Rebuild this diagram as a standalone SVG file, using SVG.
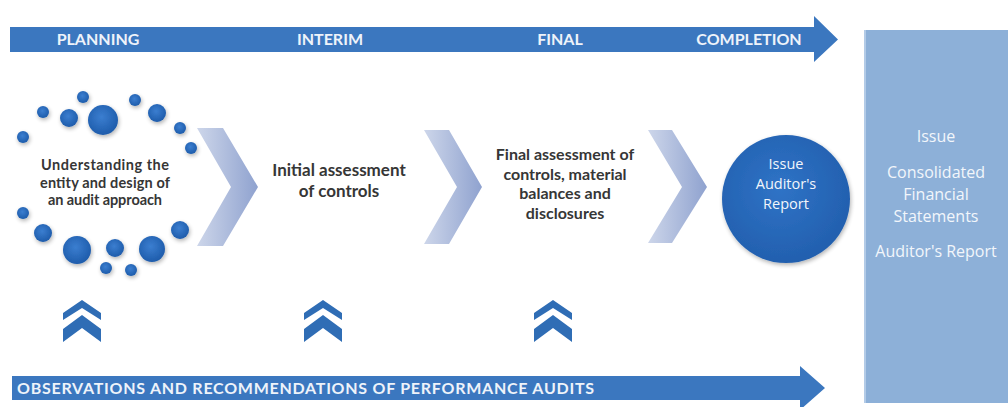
<svg xmlns="http://www.w3.org/2000/svg" width="1008" height="407" viewBox="0 0 1008 407">
  <defs>
    <style>
      .band { fill: #3b77bf; }
      .band-label { font-family: Lato, "Liberation Sans", sans-serif; font-weight: 700; font-size: 16px; fill: #eef3fa; text-anchor: middle; }
      .step-text { font-family: Lato, "Liberation Sans", sans-serif; font-weight: 700; font-size: 16px; fill: #363636; text-anchor: middle; }
      .plan-text { font-size: 14.5px; }
      .big-text { font-size: 17px; }
      .light-text { font-family: "Open Sans", "Liberation Sans", sans-serif; font-size: 16px; fill: #f2f6fb; text-anchor: middle; }
      .disc-text { font-size: 14.5px; }
      .dot { fill: url(#dotFill); }
      .chev { fill: url(#chevFill); }
      .up { fill: #2f6db5; }
    </style>
    <radialGradient id="dotFill" cx="0.45" cy="0.4" r="0.6">
      <stop offset="0" stop-color="#3b7ed0"/>
      <stop offset="1" stop-color="#1e5cab"/>
    </radialGradient>
    <radialGradient id="discFill" cx="0.45" cy="0.42" r="0.6">
      <stop offset="0" stop-color="#2f73c6"/>
      <stop offset="1" stop-color="#225fae"/>
    </radialGradient>
    <linearGradient id="chevFill" x1="0" y1="0" x2="1" y2="0">
      <stop offset="0" stop-color="#cdd6ea"/>
      <stop offset="1" stop-color="#8fa2cf"/>
    </linearGradient>
    <filter id="soft" x="-20%" y="-20%" width="140%" height="140%">
      <feGaussianBlur in="SourceAlpha" stdDeviation="2"/>
      <feOffset dx="1" dy="2"/>
      <feComponentTransfer><feFuncA type="linear" slope="0.3"/></feComponentTransfer>
      <feMerge><feMergeNode/><feMergeNode in="SourceGraphic"/></feMerge>
    </filter>
  </defs>

  <rect width="1008" height="407" fill="#ffffff"/>

  <!-- summary panel on the right -->
  <g id="summary-panel">
    <rect x="864" y="30" width="144" height="373" fill="#8db0d8"/>
    <rect x="864" y="30" width="2" height="373" fill="#b3cbe7"/>
    <text class="light-text" x="936" y="142">Issue</text>
    <text class="light-text" x="936" y="178">Consolidated</text>
    <text class="light-text" x="936" y="200">Financial</text>
    <text class="light-text" x="936" y="222">Statements</text>
    <text class="light-text" x="936" y="257">Auditor's Report</text>
  </g>

  <!-- phase timeline band -->
  <g id="phase-band">
    <path class="band" d="M10,27 H814 V16 L838,39.5 L814,62 V52 H10 Z"/>
    <text class="band-label" x="98" y="45">PLANNING</text>
    <text class="band-label" x="330" y="45">INTERIM</text>
    <text class="band-label" x="560" y="45">FINAL</text>
    <text class="band-label" x="749" y="45">COMPLETION</text>
  </g>

  <!-- planning: ring of dots around the text -->
  <g id="planning-node" filter="url(#soft)">
    <circle class="dot" cx="83" cy="97" r="6"/>
    <circle class="dot" cx="135" cy="100" r="6"/>
    <circle class="dot" cx="43" cy="112" r="6"/>
    <circle class="dot" cx="69" cy="118" r="9"/>
    <circle class="dot" cx="103" cy="120" r="15"/>
    <circle class="dot" cx="157" cy="113" r="9"/>
    <circle class="dot" cx="180" cy="128" r="6"/>
    <circle class="dot" cx="23" cy="137" r="6"/>
    <circle class="dot" cx="191" cy="148" r="6"/>
    <circle class="dot" cx="23" cy="213" r="6"/>
    <circle class="dot" cx="43" cy="233" r="9"/>
    <circle class="dot" cx="77" cy="250" r="14"/>
    <circle class="dot" cx="115" cy="248" r="9"/>
    <circle class="dot" cx="152" cy="249" r="13"/>
    <circle class="dot" cx="180" cy="230" r="9"/>
    <circle class="dot" cx="106" cy="268" r="6"/>
    <circle class="dot" cx="131" cy="270" r="6"/>
  </g>
  <g id="planning-text">
    <text class="step-text plan-text" x="105" y="170" textLength="128" lengthAdjust="spacing">Understanding the</text>
    <text class="step-text plan-text" x="105" y="187.5" textLength="130" lengthAdjust="spacing">entity and design of</text>
    <text class="step-text plan-text" x="105" y="205" textLength="114" lengthAdjust="spacing">an audit approach</text>
  </g>

  <!-- interim step -->
  <g id="interim-node">
    <text class="step-text big-text" x="339" y="176">Initial assessment</text>
    <text class="step-text big-text" x="339" y="197">of controls</text>
  </g>

  <!-- final step -->
  <g id="final-node">
    <text class="step-text" x="565" y="160">Final assessment of</text>
    <text class="step-text" x="565" y="179.5">controls, material</text>
    <text class="step-text" x="565" y="199">balances and</text>
    <text class="step-text" x="565" y="218.5">disclosures</text>
  </g>

  <!-- completion: report disc -->
  <g id="completion-node">
    <circle cx="786" cy="199" r="64" fill="url(#discFill)" filter="url(#soft)"/>
    <text class="light-text disc-text" x="786" y="169">Issue</text>
    <text class="light-text disc-text" x="786" y="189">Auditor's</text>
    <text class="light-text disc-text" x="786" y="209">Report</text>
  </g>

  <!-- observations band -->
  <g id="observations-band">
    <path class="band" d="M12,376 H800 V366 L825,388 L800,410 V400 H12 Z"/>
    <text class="band-label" x="17" y="394" style="text-anchor:start" textLength="577" lengthAdjust="spacing">OBSERVATIONS  AND  RECOMMENDATIONS  OF  PERFORMANCE  AUDITS</text>
  </g>

  <!-- connectors: chevrons between steps and upward feedback marks -->
  <g id="connectors">
    <path class="chev" d="M197,128 H223 L258,187 L223,246 H197 L231,187 Z"/>
    <path class="chev" d="M424,130 H449 L482,187 L449,244 H424 L457,187 Z"/>
    <path class="chev" d="M648,130 H672 L707,187 L672,243 H648 L682,187 Z"/>

    <path class="up" d="M82,300 L101,313 V320 L82,308 L63,320 V313 Z"/>
    <path class="up" d="M82,315 L101,329 V342 L82,328 L63,342 V329 Z"/>
    <path class="up" d="M323,300 L342,313 V320 L323,308 L304,320 V313 Z"/>
    <path class="up" d="M323,315 L342,329 V342 L323,328 L304,342 V329 Z"/>
    <path class="up" d="M553,300 L572,313 V320 L553,308 L534,320 V313 Z"/>
    <path class="up" d="M553,315 L572,329 V342 L553,328 L534,342 V329 Z"/>
  </g>
</svg>
